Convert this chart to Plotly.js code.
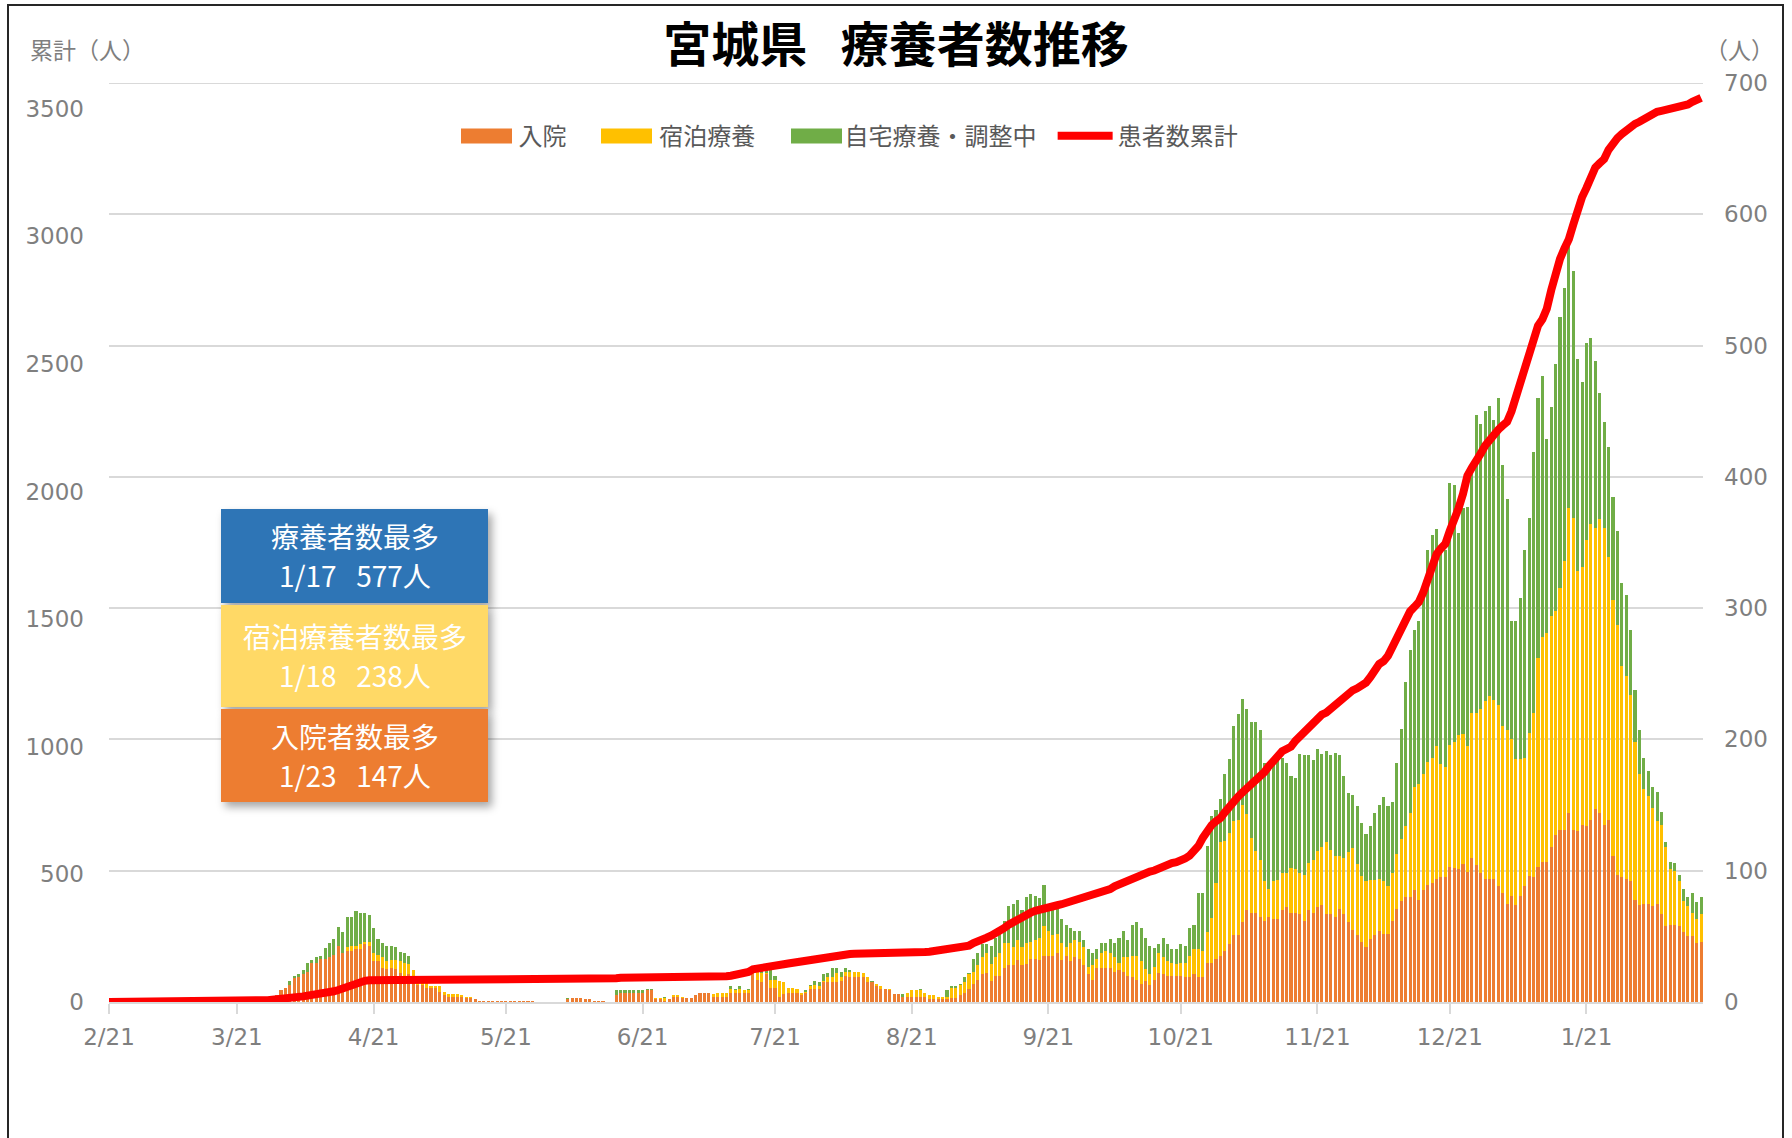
<!DOCTYPE html>
<html>
<head>
<meta charset="utf-8">
<script src="https://cdn.plot.ly/plotly-3.0.1.min.js"></script>
<style>
html,body{margin:0;padding:0;background:#fff;overflow:hidden;}
#chart{width:1792px;height:1138px;}
#frame{position:absolute;left:7px;top:4px;width:1777px;height:1300px;border:2px solid #262626;box-sizing:border-box;pointer-events:none;}
#chart .legendpoints{display:none;}
</style>
</head>
<body>
<div id="chart"></div>
<div id="frame"></div>
<script>
// ---- data (daily, starting 2020-02-21) ----
const startDate = [2020, 1, 21];

// 入院
const hospital = [
0,0,0,0,0,0,0,1,1,1,
1,1,1,1,0,0,0,0,0,0,
0,0,0,0,0,0,0,0,1,1,
1,1,2,2,3,4,4,3,5,9,
11,13,18,19,21,23,30,30,33,33,
34,36,43,37,39,39,40,40,44,43,
31,31,26,25,26,25,22,20,21,17,
13,13,11,11,11,8,5,4,4,4,
4,3,3,2,1,1,1,1,1,1,
1,1,1,1,1,1,1,0,0,0,
0,0,0,0,2,3,3,3,2,2,
1,1,1,0,0,5,7,7,7,7,
7,7,9,9,2,2,1,2,4,4,
3,3,3,5,7,7,7,4,4,4,
4,7,7,7,7,7,21,17,15,21,
11,11,4,6,7,7,7,5,7,10,
10,10,15,15,15,15,16,20,19,19,
19,19,15,15,12,10,10,9,6,6,
4,4,4,4,4,4,2,2,2,2,
2,3,3,5,7,10,14,17,21,22,
16,20,20,26,28,28,32,28,29,33,
33,32,35,35,35,37,32,35,31,34,
33,28,21,17,26,26,26,26,23,24,
23,20,19,17,14,16,13,17,22,21,
20,20,20,20,19,19,21,19,19,30,
30,33,35,39,44,51,51,61,70,68,
68,65,62,65,63,63,70,72,68,68,
67,62,70,68,72,74,67,67,65,71,
67,61,55,51,46,42,48,51,54,52,
52,62,71,77,80,80,85,78,85,89,
91,94,95,95,103,102,101,105,99,110,
104,98,94,94,94,88,83,75,81,74,
81,88,96,95,103,107,107,118,127,131,
131,144,131,130,135,134,139,147,144,135,
139,111,97,95,94,92,78,74,75,75,
73,75,67,58,59,59,58,53,50,50,
45,46
];

// 宿泊療養
const hotel = [
0,0,0,0,0,0,0,0,0,0,
0,0,0,0,0,0,0,0,0,0,
0,0,0,0,0,0,0,0,0,0,
0,0,0,0,0,0,0,0,0,0,
0,0,0,0,0,0,0,0,0,0,
0,0,0,0,3,4,3,4,2,3,
6,5,8,6,6,7,9,10,8,7,
2,2,4,1,1,4,3,2,2,2,
1,1,1,0,0,0,0,0,0,0,
0,0,0,0,0,0,0,0,0,0,
0,0,0,0,0,0,0,0,0,0,
0,0,0,0,0,0,0,0,0,0,
0,0,0,0,1,1,2,0,1,1,
1,0,0,0,0,0,0,2,3,3,
3,3,2,3,2,2,2,6,7,1,
6,6,12,9,4,4,3,2,1,2,
3,2,1,4,4,7,3,3,4,4,
4,3,4,0,2,2,0,1,0,0,
0,3,5,5,5,3,3,3,2,2,
2,8,8,8,8,11,9,11,13,15,
13,14,17,19,17,14,15,14,16,13,
14,17,23,19,16,15,13,7,14,13,
13,14,6,11,7,11,13,11,11,6,
11,14,16,18,17,9,8,10,15,13,
11,10,9,10,11,16,19,21,20,23,
34,58,87,84,85,87,88,89,73,57,
47,43,30,21,29,30,28,26,34,33,
31,35,36,40,43,44,55,49,46,40,
43,53,62,54,50,50,45,42,40,40,
36,36,42,47,54,64,79,88,89,94,
95,101,86,84,93,96,102,99,96,110,
116,125,135,139,136,138,127,132,119,111,
104,98,109,125,159,171,174,176,171,184,
205,232,238,198,196,218,225,214,224,226,
200,195,190,161,154,142,120,100,87,82,
75,63,68,60,42,41,34,24,23,18,
18,21
];

// 自宅療養・調整中
const home = [
0,0,0,0,0,0,0,0,0,0,
0,0,0,0,0,0,0,0,0,0,
0,0,0,0,0,0,0,0,0,0,
0,0,0,0,0,0,0,0,0,0,
0,3,2,2,3,7,2,4,2,8,
11,12,14,16,23,22,26,24,22,20,
19,12,11,12,11,10,7,7,6,0,
0,0,0,0,0,0,0,0,0,0,
0,0,0,0,0,0,0,0,0,0,
0,0,0,0,0,0,0,0,0,0,
0,0,0,0,1,0,0,0,0,0,
0,0,0,0,0,4,2,2,2,2,
2,2,1,1,0,0,1,0,0,0,
0,0,0,0,0,0,0,0,0,0,
0,2,1,2,0,1,0,1,2,2,
7,3,0,0,0,0,0,0,1,1,
3,3,5,3,7,4,4,3,1,0,
0,0,0,1,0,0,0,0,0,0,
2,0,0,0,1,0,0,0,0,0,
5,1,1,1,4,1,10,9,10,7,
14,15,15,17,28,33,31,28,35,36,
34,30,31,19,20,20,18,17,11,7,
8,5,13,9,7,8,6,11,11,19,
20,13,24,26,25,24,22,14,7,15,
13,10,11,14,13,21,19,43,44,66,
78,55,33,51,56,72,80,81,80,88,
98,99,90,93,93,95,88,84,70,70,
91,91,82,76,78,71,69,72,79,77,
62,45,41,44,40,36,41,51,56,64,
61,54,69,84,110,124,119,124,143,161,
170,165,167,165,199,196,154,172,182,188,
227,217,221,221,213,234,199,176,90,105,
123,158,164,199,198,199,148,159,188,207,
208,201,188,162,141,150,142,127,96,81,
84,79,72,63,62,49,40,33,24,19,
16,22,10,4,6,6,5,9,7,15,
13,13
];

// 患者数累計
const cumulative = [
0,0,0,0,0,0,0,1,1,1,
1,1,1,1,1,1,1,1,1,1,
1,1,1,1,1,1,1,1,2,2,
3,3,4,4,5,6,7,9,10,12,
13,15,17,20,22,25,27,30,32,34,
37,42,47,53,59,67,76,81,83,85,
84,85,86,86,86,86,86,86,86,86,
86,86,86,86,86,86,86,86,86,86,
86,86,86,86,86,86,86,86,86,86,
86,86,86,86,86,86,86,86,86,86,
86,86,86,86,86,86,86,86,86,86,
86,86,86,86,86,93,95,95,95,95,
95,96,96,96,96,96,97,97,97,97,
97,99,99,99,99,99,101,101,101,101,
101,103,106,109,111,118,128,132,135,138,
141,143,145,148,151,154,158,161,165,169,
172,175,178,181,184,186,187,188,188,189,
189,190,190,190,191,191,192,192,193,193,
193,194,194,195,196,196,197,200,201,203,
204,206,209,211,214,221,231,241,247,252,
260,268,278,290,303,314,321,329,339,350,
357,363,369,372,375,379,383,388,394,398,
402,406,411,416,422,429,435,442,453,460,
468,478,489,495,500,505,511,515,524,533,
540,544,548,553,562,573,591,611,643,671,
693,708,720,743,766,785,804,821,836,853,
867,876,901,924,946,967,982,991,1000,1023,
1042,1056,1072,1092,1111,1126,1134,1149,1164,1181,
1198,1211,1221,1229,1240,1251,1273,1298,1324,1335,
1356,1391,1430,1471,1500,1530,1548,1567,1605,1651,
1702,1754,1777,1795,1846,1882,1934,1990,2062,2093,
2117,2148,2179,2203,2227,2242,2258,2273,2314,2371,
2433,2489,2541,2613,2649,2674,2716,2788,2865,2911,
2952,2988,3045,3106,3153,3189,3235,3269,3286,3302,
3338,3366,3384,3400,3415,3430,3440,3448,3460,3472,
3481,3487,3491,3494,3499,3503,3505,3507,3516,3526,
3534,3542
];

const tickDates = ['2020-02-21','2020-03-21','2020-04-21','2020-05-21','2020-06-21','2020-07-21',
  '2020-08-21','2020-09-21','2020-10-21','2020-11-21','2020-12-21','2021-01-21'];
const tickLabels = ['2/21','3/21','4/21','5/21','6/21','7/21','8/21','9/21','10/21','11/21','12/21','1/21'];

const seriesNames = ['入院','宿泊療養','自宅療養・調整中','患者数累計'];
const seriesColors = ['#ED7D31','#FFC000','#70AD47','#FF0000'];
const peakTitles = ['療養者数最多','宿泊療養者数最多','入院者数最多'];
const peakDates = ['1/17','1/18','1/23'];
const peakValues = [577, 238, 147];

// ---- build dates ----
const dates = hospital.map((_, i) => {
  const d = new Date(Date.UTC(startDate[0], startDate[1], startDate[2] + i));
  return d.toISOString().slice(0, 10);
});

const FONT = "'Noto Sans CJK JP', 'Noto Sans', sans-serif";
const NUMFONT = "'DejaVu Sans', 'Noto Sans CJK JP', sans-serif";
const GRAY = '#7f7f7f';

const traces = [
  {type:'bar', name:seriesNames[0], x:dates, y:hospital, marker:{color:seriesColors[0]}, yaxis:'y', legend:'legend'},
  {type:'bar', name:seriesNames[1], x:dates, y:hotel, marker:{color:seriesColors[1]}, yaxis:'y', legend:'legend2'},
  {type:'bar', name:seriesNames[2], x:dates, y:home, marker:{color:seriesColors[2]}, yaxis:'y', legend:'legend3'},
  {type:'scatter', mode:'lines', name:seriesNames[3], x:dates, y:cumulative, yaxis:'y2', legend:'legend4',
   line:{color:seriesColors[3], width:8}}
];

// pixel geometry -> paper coords (plot area 1594 x 919, left 109, bottom 1002)
const PW = 1594, PH = 919, PL = 109, PB = 1002;
const px = v => (v - PL) / PW;
const py = v => (PB - v) / PH;

const boxColors = ['#2E75B6', '#FFD966', '#ED7D31'];
const boxTopPx = [509, 605, 709];
const boxBotPx = [603, 707, 802];
const line1Px = [536, 636, 736];
const line2Px = [575, 675, 775];

// legend key rectangles for the three bar series (native keys are square)
const keyLeftPx = [461, 601, 791];
const keyCenterY = 136;

const shapes = [
  {type:'line', xref:'paper', yref:'y', x0:0, x1:1, y0:700, y1:700,
   line:{color:'#d9d9d9', width:2}, layer:'below'}
];
keyLeftPx.forEach((x, i) => {
  shapes.push({type:'rect', xref:'paper', yref:'paper', x0:px(x), x1:px(x + 51),
               y0:py(keyCenterY + 7.5), y1:py(keyCenterY - 7.5), fillcolor:seriesColors[i],
               line:{width:0}, layer:'above', name:'key'});
});

const annotations = [
  {text:'累計（人）', xref:'paper', yref:'paper', x:-0.0508, y:1.037, xanchor:'left', yanchor:'middle',
   showarrow:false, font:{size:23, color:GRAY, family:FONT}},
  {text:'（人）', xref:'paper', yref:'paper', x:1.0232, y:1.037, xanchor:'center', yanchor:'middle',
   showarrow:false, font:{size:23, color:GRAY, family:FONT}}
];
peakTitles.forEach((t, i) => {
  shapes.push({type:'rect', xref:'paper', yref:'paper', x0:px(221), x1:px(488),
               y0:py(boxBotPx[i]), y1:py(boxTopPx[i]), fillcolor:boxColors[i],
               line:{width:0}, layer:'above', name:'box'});
  annotations.push({text:t, xref:'paper', yref:'paper', x:px(354.5), y:py(line1Px[i]),
    xanchor:'center', yanchor:'middle', showarrow:false, font:{size:28, color:'#ffffff', family:FONT}});
  annotations.push({text:peakDates[i] + '\u2002\u2009' + peakValues[i] + '人', xref:'paper', yref:'paper',
    x:px(354.5), y:py(line2Px[i]), xanchor:'center', yanchor:'middle', showarrow:false,
    font:{size:28, color:'#ffffff', family:FONT}});
});

function legendAt(x) {
  return {orientation:'h', x:x, xanchor:'left', y:0.9423, yanchor:'middle',
          font:{size:24, color:'#595959', family:FONT}, itemwidth:55,
          bgcolor:'rgba(0,0,0,0)', borderwidth:0};
}

const layout = {
  width:1792, height:1138,
  margin:{l:109, r:89, t:83, b:136, autoexpand:false},
  paper_bgcolor:'#ffffff', plot_bgcolor:'#ffffff',
  barmode:'stack', bargap:0.3,
  font:{family:FONT, color:GRAY, size:22},
  title:{text:'<b>宮城県\u2002\u2009療養者数推移</b>', xref:'container', x:0.5, xanchor:'center',
         yref:'container', y:0.9605, yanchor:'middle', font:{size:48, color:'#000000', family:FONT}},
  xaxis:{type:'date', range:['2020-02-21','2021-02-16 10:00'], tickmode:'array',
         tickvals:tickDates, ticktext:tickLabels, ticks:'outside', ticklen:10, tickwidth:2,
         tickcolor:'#d9d9d9', showline:true, linecolor:'#d9d9d9', linewidth:2,
         showgrid:false, zeroline:false, tickfont:{size:23, color:GRAY, family:NUMFONT},
         ticklabelstandoff:3, fixedrange:true},
  yaxis:{range:[0,700], side:'right', tickmode:'linear', tick0:0, dtick:100,
         showgrid:true, gridcolor:'#d9d9d9', gridwidth:2, zeroline:false, showline:false,
         ticks:'', tickfont:{size:23, color:GRAY, family:NUMFONT}, ticklabelstandoff:20, fixedrange:true},
  yaxis2:{range:[0,3600], overlaying:'y', side:'left', tickmode:'linear', tick0:0, dtick:500,
          showgrid:false, zeroline:false, showline:false, ticks:'',
          tickfont:{size:23, color:GRAY, family:NUMFONT}, ticklabelstandoff:24, fixedrange:true},
  legend:legendAt(0.2162),
  legend2:legendAt(0.3044),
  legend3:legendAt(0.4206),
  legend4:legendAt(0.5920),
  shapes:shapes,
  annotations:annotations,
  showlegend:true
};

// Lengthen the line key of the cumulative series to the reference's long rounded stroke.
function fixLegends(gd) {
  gd.querySelectorAll('g.traces').forEach(g => {
    const t = g.querySelector('text.legendtext');
    const line = g.querySelector('.legendlines path');
    if (!t || !line) return;
    const tx = parseFloat(t.getAttribute('x')) || 65;
    line.removeAttribute('transform');
    const par = line.parentNode;
    const c = par.transform && par.transform.baseVal.consolidate();
    const ox = c ? c.matrix.e : 0;
    const d = 'M' + (8 - ox) + ',0H' + (tx - 5 - ox);
    if (line.getAttribute('d') !== d) line.setAttribute('d', d);
    line.style.strokeLinecap = 'round';
  });
  const boxes = gd.querySelectorAll('.layer-above .shapelayer path');
  boxes.forEach((s, i) => {
    if (i >= 3) s.style.filter = 'drop-shadow(4px 5px 4px rgba(0,0,0,0.35))';
  });
}

Plotly.newPlot('chart', traces, layout, {staticPlot:true, displayModeBar:false}).then(gd => {
  fixLegends(gd);
  gd.on('plotly_afterplot', () => fixLegends(gd));
  [0, 30, 100, 250, 500, 1000].forEach(ms => setTimeout(() => fixLegends(gd), ms));
});
</script>
</body>
</html>
